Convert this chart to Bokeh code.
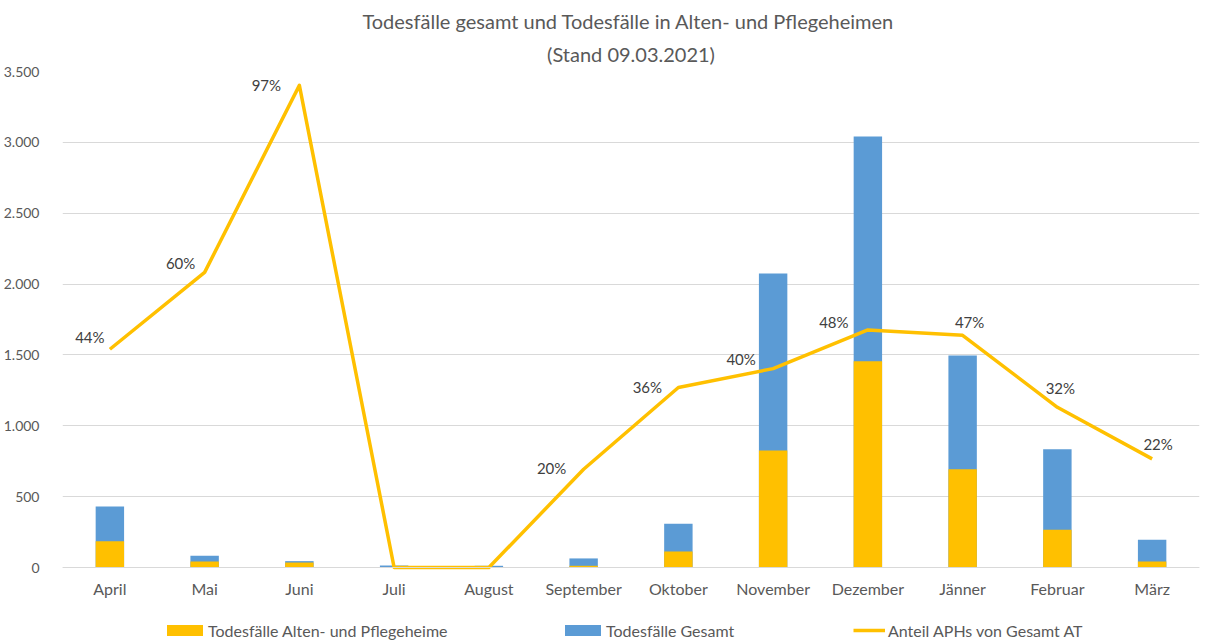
from bokeh.plotting import figure
from bokeh.models import (ColumnDataSource, FactorRange, Range1d, Legend, LegendItem,
                          Title, FixedTicker)
from bokeh.core.properties import value
from bokeh.embed import file_html
from bokeh.resources import INLINE

months = ["April", "Mai", "Juni", "Juli", "August", "September", "Oktober",
          "November", "Dezember", "Jänner", "Februar", "März"]
total_deaths = [430, 83, 45, 14, 12, 64, 308, 2075, 3042, 1496, 835, 195]
aph_deaths = [186, 42, 35, 2, 1, 12, 113, 826, 1456, 694, 266, 42]
aph_share = [0.44, 0.595, 0.972, 0.0, 0.0, 0.198, 0.363, 0.401, 0.479, 0.468, 0.323, 0.219]
y_ticks = [0, 500, 1000, 1500, 2000, 2500, 3000, 3500]
y_tick_labels = ["0", "500", "1.000", "1.500", "2.000", "2.500", "3.000", "3.500"]

# label placement (style): offsets of the percentage labels from their points, in px
label_dx = [-20, -24, -33, 0, 0, -32, -31, -32, -34, 7, 3, 6]
label_dy = [-12, -9, 0, 0, 0, -1, 0, -10, -8, -13, -19, -15]

FONT = "Lato"
GREY = "#595959"
YELLOW = "#FFC000"
BLUE = "#5B9BD5"

# layout: plot frame runs from y=71 to the bottom of the canvas (640);
# the value 0 sits at y=567, leaving room below it for the axis labels and legend
FRAME_TOP, ZERO_Y, FRAME_BOTTOM = 71, 567, 640
below_frac = (FRAME_BOTTOM - ZERO_Y) / (ZERO_Y - FRAME_TOP)
Y_MAX = 3500

src = ColumnDataSource(dict(
    month=months, total=total_deaths, aph=aph_deaths, share=aph_share,
    lab=[("%d%%" % round(v * 100)) if v > 0 else "" for v in aph_share],
    dx=label_dx, dy=label_dy,
))

p = figure(x_range=FactorRange(*months, range_padding=0),
           y_range=Range1d(-Y_MAX * below_frac, Y_MAX),
           width=1207, height=640, output_backend="svg", toolbar_location=None,
           min_border_left=62, min_border_right=8, min_border_bottom=0, min_border_top=FRAME_TOP)
p.extra_y_ranges = {"pct": Range1d(-1.0 * below_frac, 1.0)}

p.outline_line_color = None
p.background_fill_color = "white"
p.border_fill_color = "white"

blue_r = p.vbar(x="month", top="total", bottom=0, width=0.3, source=src, fill_color=BLUE,
                line_color=None)
yel_r = p.vbar(x="month", top="aph", bottom=0, width=0.3, source=src, fill_color=YELLOW,
               line_color=None)
line_r = p.line(x="month", y="share", source=src, y_range_name="pct", line_color=YELLOW,
                line_width=3.5, line_join="round")
p.text(x="month", y="share", text="lab", source=src, y_range_name="pct",
       x_offset="dx", y_offset="dy", text_align="center", text_baseline="middle",
       text_font=value(FONT), text_font_size="15px", text_color="#404040")

# axes
p.yaxis.ticker = FixedTicker(ticks=y_ticks)
p.yaxis.major_label_overrides = {t: l for t, l in zip(y_ticks, y_tick_labels)}
p.yaxis.axis_line_color = None
p.yaxis.major_tick_line_color = None
p.yaxis.minor_tick_line_color = None
p.yaxis.major_label_standoff = 17
p.yaxis.major_label_text_font = FONT
p.yaxis.major_label_text_font_size = "14px"
p.yaxis.major_label_text_color = GREY

p.xaxis.fixed_location = 0
p.xaxis.axis_line_color = "#D9D9D9"
p.xaxis.major_tick_line_color = None
p.xaxis.minor_tick_line_color = None
p.xaxis.major_label_standoff = 5
p.xaxis.major_label_text_font = FONT
p.xaxis.major_label_text_font_size = "16px"
p.xaxis.major_label_text_color = GREY

p.xgrid.grid_line_color = None
p.ygrid.grid_line_color = "#D9D9D9"
p.ygrid.ticker = FixedTicker(ticks=y_ticks)

# titles
p.title = None
t2 = Title(text="(Stand 09.03.2021)", align="center", text_font=FONT, text_font_size="20px",
           text_font_style="normal", text_color=GREY, standoff=12)
t1 = Title(text="Todesfälle gesamt und Todesfälle in Alten- und  Pflegeheimen", align="center",
           text_font=FONT, text_font_size="20px", text_font_style="normal", text_color=GREY,
           standoff=2)
p.add_layout(t2, "above")
p.add_layout(t1, "above")

# legends (one per entry so each swatch can be sized like the original)
def mk_legend(label, r, x, gw, standoff):
    lg = Legend(items=[LegendItem(label=label, renderers=[r])], location=(x, 0),
                orientation="horizontal", glyph_width=gw, glyph_height=14,
                label_standoff=standoff, padding=0, margin=0, border_line_color=None,
                background_fill_alpha=0, label_text_font=FONT, label_text_font_size="16px",
                label_text_color=GREY, label_height=20)
    p.add_layout(lg, "center")

mk_legend("Todesfälle Alten- und Pflegeheime", yel_r, 100, 45, 1)
mk_legend("Todesfälle Gesamt", blue_r, 498, 45, 1)
mk_legend("Anteil APHs von Gesamt AT", line_r, 791, 32, 3)

open("out.html", "w").write(file_html(p, INLINE))
